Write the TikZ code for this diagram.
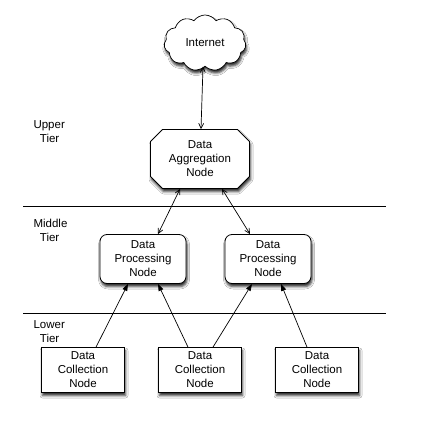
\documentclass[tikz,border=0pt]{standalone}
\usepackage{fontspec}
\setmainfont{Liberation Sans}
\usetikzlibrary{shapes.symbols,shapes.misc,shadows.blur,arrows.meta}
\begin{document}
\begin{tikzpicture}[x=1pt,y=-1pt,
  every node/.style={font=\fontsize{11.5}{14}\selectfont, align=center},
  shad/.style={blur shadow={shadow xshift=1pt,shadow yshift=-3pt,shadow blur radius=2.5pt,shadow opacity=85}},
  cloudnode/.style={cloud, cloud puffs=11, cloud puff arc=110, aspect=1.5, draw, fill=white, shad, minimum width=82pt, minimum height=56pt, inner sep=0pt, line width=0.7pt},
  aggbox/.style={chamfered rectangle, chamfered rectangle xsep=6pt, chamfered rectangle ysep=6pt, draw, fill=white, shad, minimum width=99pt, minimum height=59pt, inner sep=0pt, line width=0.8pt},
  procbox/.style={rounded corners=7pt, draw, fill=white, shad, minimum width=86pt, minimum height=49pt, inner sep=0pt, line width=0.8pt},
  collbox/.style={rectangle, draw, fill=white, shad, minimum width=83pt, minimum height=45pt, inner sep=0pt, line width=0.8pt},
  tier/.style={align=left, anchor=north west},
  openarr/.style={{Straight Barb[length=5pt,width=5pt]}-{Straight Barb[length=5pt,width=5pt]}, line width=0.7pt},
  filledarr/.style={-{Triangle[length=7pt,width=5pt]}, line width=0.7pt},
  sep/.style={line width=0.9pt}
]
\useasboundingbox (0,0) rectangle (422,427);
\path[fill=white] (0,0) rectangle (422,427);

\coordinate (l1a) at (23,206);
\coordinate (l1b) at (386,206);
\coordinate (l2a) at (23,313);
\coordinate (l2b) at (386,313);
\draw[sep] (l1a) -- (l1b);
\draw[sep] (l2a) -- (l2b);

\node[tier] (tu) at (30,117) {Upper\\\ \ Tier};
\node[tier] (tm) at (30,216) {Middle\\\ \ Tier};
\node[tier] (tl) at (30,317) {Lower\\\ \ Tier};

\node[cloudnode] (net) at (205,43) {Internet};
\node[aggbox] (agg) at (200,159) {Data\\Aggregation\\Node};
\node[procbox] (p1) at (143,259) {Data\\Processing\\Node};
\node[procbox] (p2) at (268,259) {Data\\Processing\\Node};
\node[collbox] (c1) at (83,370) {Data\\Collection\\Node};
\node[collbox] (c2) at (200,370) {Data\\Collection\\Node};
\node[collbox] (c3) at (317,370) {Data\\Collection\\Node};

\draw[openarr] ([xshift=-2pt]net.south) -- ([xshift=1pt]agg.north);
\draw[openarr] ([xshift=-20pt]agg.south) -- ([xshift=15pt]p1.north);
\draw[openarr] ([xshift=22pt]agg.south) -- ([xshift=-18pt]p2.north);
\draw[filledarr] ([xshift=13pt]c1.north) -- ([xshift=-15pt]p1.south);
\draw[filledarr] ([xshift=-12pt]c2.north) -- ([xshift=15pt]p1.south);
\draw[filledarr] ([xshift=13pt]c2.north) -- ([xshift=-16pt]p2.south);
\draw[filledarr] ([xshift=-10pt]c3.north) -- ([xshift=13pt]p2.south);
\end{tikzpicture}
\end{document}
